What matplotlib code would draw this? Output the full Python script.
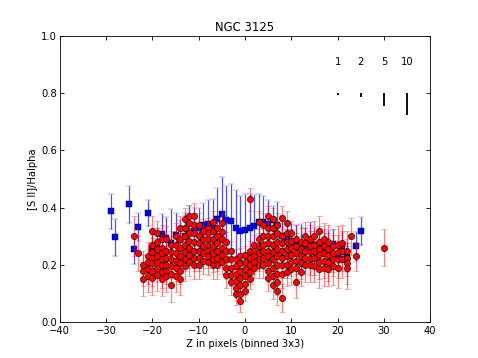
import matplotlib
matplotlib.use("Agg")
import matplotlib.pyplot as plt

# Blue squares (binned means)
blue_x = [-29, -28, -25, -24, -23, -21, -20, -19, -18, -17, -16, -15, -14, -13, -12, -11,
          -10, -9, -8, -7, -6, -5, -4, -3, -2, -1, 0, 1, 2, 3, 4, 5, 6, 7, 8, 9, 10, 11,
          12, 13, 14, 15, 16, 17, 18, 19, 20, 21, 22, 24, 25]
blue_y = [0.387, 0.296, 0.412, 0.254, 0.333, 0.381, 0.256, 0.27, 0.307, 0.294, 0.275, 0.303,
          0.286, 0.30, 0.31, 0.32, 0.33, 0.34, 0.344, 0.33, 0.36, 0.377, 0.356, 0.354, 0.328,
          0.317, 0.323, 0.33, 0.335, 0.349, 0.35, 0.344, 0.356, 0.34, 0.30, 0.292, 0.284,
          0.28, 0.265, 0.27, 0.28, 0.27, 0.254, 0.26, 0.27, 0.272, 0.234, 0.26, 0.226,
          0.265, 0.319]
blue_err = [0.06, 0.065, 0.065, 0.05, 0.05, 0.045, 0.05, 0.06, 0.07, 0.075, 0.12, 0.08,
            0.07, 0.08, 0.095, 0.08, 0.07, 0.075, 0.084, 0.10, 0.107, 0.13, 0.12, 0.128,
            0.133, 0.125, 0.124, 0.117, 0.11, 0.10, 0.09, 0.082, 0.05, 0.08, 0.07, 0.06,
            0.06, 0.06, 0.077, 0.06, 0.07, 0.06, 0.05, 0.05, 0.05, 0.05, 0.05, 0.05, 0.05,
            0.05, 0.05]

# Red circles (individual spaxels)
red_x = [
    -24, -23,
    -22, -22, -22,
    -21, -21, -21, -21,
    -20, -20, -20, -20, -20, -20, -20,
    -19, -19, -19, -19, -19, -19, -19,
    -18, -18, -18, -18, -18, -18, -18,
    -17, -17, -17, -17, -17, -17,
    -16, -16, -16, -16, -16, -16,
    -15, -15, -15, -15, -15, -15,
    -14, -14, -14, -14, -14, -14, -14,
    -13, -13, -13, -13, -13, -13, -13,
    -12, -12, -12, -12, -12, -12, -12,
    -11, -11, -11, -11, -11, -11, -11,
    -10, -10, -10, -10, -10, -10,
    -9, -9, -9, -9, -9,
    -8, -8, -8, -8, -8, -8, -8,
    -7, -7, -7, -7, -7, -7, -7,
    -6, -6, -6, -6, -6, -6,
    -5, -5, -5, -5, -5, -5,
    -4, -4, -4, -4, -4,
    -3, -3, -3, -3, -3,
    -2, -2, -2, -2, -2, -2,
    -1, -1, -1, -1, -1, -1, -1,
    0, 0, 0, 0, 0, 0,
    1, 1, 1, 1, 1, 1,
    2, 2, 2, 2, 2,
    3, 3, 3, 3, 3, 3,
    4, 4, 4, 4, 4, 4,
    5, 5, 5, 5, 5, 5, 5, 5, 5,
    6, 6, 6, 6, 6, 6, 6, 6, 6,
    7, 7, 7, 7, 7, 7, 7, 7, 7,
    8, 8, 8, 8, 8, 8, 8, 8,
    9, 9, 9, 9, 9, 9, 9,
    10, 10, 10, 10, 10, 10,
    11, 11, 11, 11, 11, 11,
    12, 12, 12, 12, 12,
    13, 13, 13, 13, 13,
    14, 14, 14, 14, 14,
    15, 15, 15, 15, 15,
    16, 16, 16, 16, 16, 16,
    17, 17, 17, 17, 17,
    18, 18, 18, 18, 18,
    19, 19, 19, 19,
    20, 20, 20, 20,
    21, 21, 21,
    22, 22, 22, 22,
    23, 24, 30,
]
red_y = [
    0.30, 0.24,
    0.20, 0.18, 0.15,
    0.23, 0.21, 0.185, 0.16,
    0.32, 0.27, 0.245, 0.225, 0.205, 0.18, 0.155,
    0.31, 0.28, 0.255, 0.23, 0.21, 0.19, 0.165,
    0.29, 0.26, 0.24, 0.22, 0.20, 0.175, 0.15,
    0.29, 0.25, 0.225, 0.20, 0.18, 0.16,
    0.27, 0.245, 0.22, 0.195, 0.17, 0.13,
    0.30, 0.27, 0.24, 0.215, 0.19, 0.16,
    0.33, 0.29, 0.26, 0.23, 0.205, 0.18, 0.15,
    0.36, 0.33, 0.30, 0.27, 0.245, 0.22, 0.195,
    0.37, 0.345, 0.31, 0.285, 0.26, 0.235, 0.21,
    0.37, 0.34, 0.31, 0.28, 0.25, 0.225, 0.20,
    0.34, 0.30, 0.275, 0.25, 0.225, 0.20,
    0.32, 0.29, 0.265, 0.24, 0.215,
    0.33, 0.31, 0.29, 0.27, 0.25, 0.23, 0.21,
    0.35, 0.32, 0.29, 0.265, 0.24, 0.22, 0.20,
    0.33, 0.30, 0.275, 0.25, 0.225, 0.20,
    0.345, 0.315, 0.29, 0.26, 0.235, 0.21,
    0.28, 0.25, 0.22, 0.19, 0.165,
    0.25, 0.22, 0.19, 0.165, 0.14,
    0.22, 0.195, 0.17, 0.145, 0.12, 0.10,
    0.23, 0.205, 0.18, 0.155, 0.13, 0.10, 0.075,
    0.235, 0.21, 0.185, 0.16, 0.135, 0.11,
    0.43, 0.25, 0.225, 0.20, 0.175, 0.15,
    0.27, 0.25, 0.23, 0.21, 0.19,
    0.35, 0.29, 0.265, 0.24, 0.22, 0.20,
    0.34, 0.30, 0.27, 0.25, 0.225, 0.20,
    0.37, 0.33, 0.30, 0.275, 0.25, 0.23, 0.205, 0.18, 0.155,
    0.36, 0.33, 0.30, 0.27, 0.245, 0.22, 0.19, 0.16, 0.13,
    0.34, 0.31, 0.28, 0.255, 0.23, 0.20, 0.17, 0.14, 0.11,
    0.365, 0.30, 0.275, 0.25, 0.225, 0.20, 0.17, 0.085,
    0.345, 0.31, 0.28, 0.255, 0.23, 0.20, 0.175,
    0.31, 0.285, 0.26, 0.235, 0.21, 0.185,
    0.29, 0.265, 0.24, 0.215, 0.19, 0.14,
    0.28, 0.255, 0.23, 0.205, 0.175,
    0.30, 0.275, 0.25, 0.225, 0.20,
    0.29, 0.265, 0.245, 0.22, 0.20,
    0.30, 0.27, 0.25, 0.225, 0.195,
    0.32, 0.28, 0.255, 0.235, 0.21, 0.185,
    0.29, 0.265, 0.24, 0.215, 0.19,
    0.28, 0.255, 0.235, 0.21, 0.185,
    0.265, 0.24, 0.22, 0.195,
    0.27, 0.245, 0.22, 0.19,
    0.275, 0.25, 0.22,
    0.25, 0.225, 0.205, 0.19,
    0.30, 0.23, 0.26,
]
red_err = [
    0.07, 0.06,
    0.05, 0.055, 0.06,
    0.05, 0.045, 0.05, 0.055,
    0.05, 0.045, 0.05, 0.04, 0.05, 0.055, 0.06,
    0.045, 0.05, 0.04, 0.05, 0.045, 0.05, 0.055,
    0.05, 0.045, 0.05, 0.04, 0.05, 0.055, 0.06,
    0.045, 0.05, 0.04, 0.05, 0.045, 0.055,
    0.05, 0.045, 0.05, 0.04, 0.05, 0.06,
    0.045, 0.05, 0.04, 0.05, 0.045, 0.055,
    0.04, 0.045, 0.05, 0.04, 0.05, 0.045, 0.055,
    0.04, 0.045, 0.04, 0.05, 0.045, 0.04, 0.05,
    0.04, 0.035, 0.045, 0.04, 0.05, 0.045, 0.05,
    0.045, 0.04, 0.045, 0.04, 0.05, 0.045, 0.05,
    0.04, 0.045, 0.04, 0.05, 0.045, 0.05,
    0.04, 0.045, 0.04, 0.05, 0.045,
    0.035, 0.04, 0.035, 0.04, 0.045, 0.04, 0.045,
    0.04, 0.035, 0.04, 0.045, 0.04, 0.045, 0.05,
    0.035, 0.04, 0.045, 0.04, 0.045, 0.05,
    0.035, 0.04, 0.035, 0.04, 0.045, 0.04,
    0.035, 0.04, 0.035, 0.04, 0.045,
    0.035, 0.04, 0.035, 0.04, 0.045,
    0.035, 0.03, 0.035, 0.04, 0.035, 0.04,
    0.03, 0.035, 0.03, 0.035, 0.04, 0.035, 0.04,
    0.03, 0.035, 0.03, 0.035, 0.04, 0.035,
    0.04, 0.035, 0.03, 0.035, 0.04, 0.035,
    0.035, 0.03, 0.035, 0.04, 0.035,
    0.04, 0.035, 0.04, 0.035, 0.04, 0.045,
    0.04, 0.035, 0.04, 0.035, 0.04, 0.045,
    0.035, 0.04, 0.035, 0.04, 0.035, 0.04, 0.045, 0.04, 0.045,
    0.04, 0.035, 0.04, 0.035, 0.04, 0.045, 0.04, 0.045, 0.05,
    0.04, 0.035, 0.04, 0.045, 0.04, 0.045, 0.05, 0.045, 0.05,
    0.04, 0.045, 0.04, 0.045, 0.04, 0.045, 0.05, 0.05,
    0.045, 0.04, 0.045, 0.04, 0.05, 0.045, 0.05,
    0.045, 0.04, 0.05, 0.045, 0.05, 0.055,
    0.05, 0.045, 0.05, 0.045, 0.05, 0.055,
    0.05, 0.045, 0.05, 0.055, 0.05,
    0.05, 0.055, 0.05, 0.055, 0.06,
    0.05, 0.055, 0.05, 0.055, 0.06,
    0.055, 0.05, 0.055, 0.06, 0.055,
    0.05, 0.055, 0.06, 0.055, 0.06, 0.065,
    0.055, 0.06, 0.055, 0.06, 0.065,
    0.06, 0.055, 0.06, 0.065, 0.06,
    0.06, 0.065, 0.06, 0.065,
    0.065, 0.06, 0.065, 0.07,
    0.065, 0.07, 0.065,
    0.07, 0.065, 0.07, 0.075,
    0.065, 0.05, 0.065,
]

# Scale indicator at the top right
scale_labels = ["1", "2", "5", "10"]
scale_x = [20, 25, 30, 35]
scale_len = [0.008, 0.015, 0.046, 0.078]

plt.rcParams["font.family"] = "DejaVu Sans"
plt.rcParams["font.size"] = 12

fig = plt.figure(figsize=(478 / 60, 358 / 60), dpi=60)
ax = fig.add_axes([0.125, 0.1, 0.775, 0.8])

ax.errorbar(blue_x, blue_y, yerr=blue_err, fmt="s", color="#0000ff", mec="#000000",
            mew=0.5, ms=7, ecolor=(0, 0, 1, 0.7), elinewidth=1.5, capsize=3.5,
            capthick=1.5, zorder=2)
ax.errorbar(red_x, red_y, yerr=red_err, fmt="o", color="#ff0000", mec="#000000",
            mew=0.7, ms=7.5, ecolor=(1, 0, 0, 0.5), elinewidth=1.5, capsize=3.5,
            capthick=1.5, zorder=3)

for lab, sx, sl in zip(scale_labels, scale_x, scale_len):
    ax.text(sx, 0.908, lab, ha="center", va="center", fontsize=12)
    ax.vlines(sx, 0.8 - sl, 0.8, colors="black", linewidth=2.2)

ax.set_xlim(-40, 40)
ax.set_ylim(0, 1)
ax.set_xticks(range(-40, 41, 10))
ax.set_yticks([0.0, 0.2, 0.4, 0.6, 0.8, 1.0])
ax.tick_params(direction="in", top=True, right=True, length=5, width=1, labelsize=12)
ax.tick_params(axis="x", pad=4.5)
for s in ax.spines.values():
    s.set_linewidth(1)

ax.set_title("NGC 3125", fontsize=14)
ax.set_xlabel("Z in pixels (binned 3x3)")
ax.set_ylabel("[S II]/Halpha")

fig.savefig("out.png", dpi=60)
